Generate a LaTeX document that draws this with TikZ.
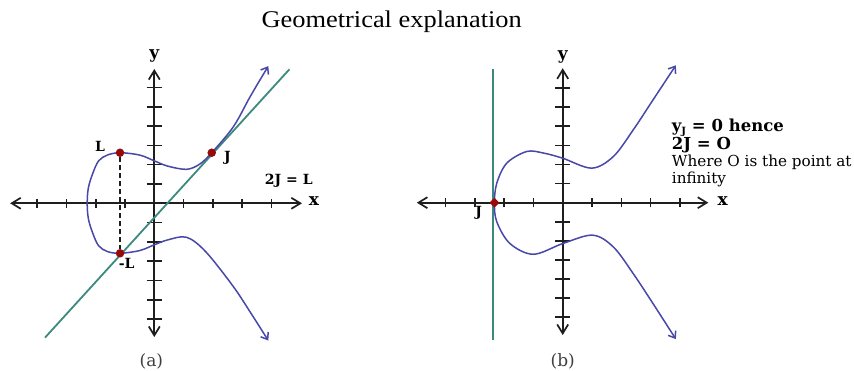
\documentclass[tikz,border=0pt]{standalone}
\usepackage{fontspec}
\setmainfont{Liberation Serif}
\newfontfamily\lblfont{DejaVu Serif}
\usetikzlibrary{arrows.meta,shapes.geometric}
\definecolor{curveblue}{RGB}{72,72,168}
\definecolor{tealline}{RGB}{60,138,126}
\definecolor{ptred}{RGB}{150,10,10}
\definecolor{axisgray}{RGB}{30,30,30}
\tikzset{
  axisline/.style={draw=axisgray,line width=1.7pt,
    {Straight Barb[length=9pt,width=11pt]}-{Straight Barb[length=9pt,width=11pt]}},
  tickmark/.style={draw=axisgray,line width=1.6pt},
  curveline/.style={draw=curveblue,line width=1.5pt,
    {Straight Barb[length=6pt,width=9pt]}-{Straight Barb[length=6pt,width=9pt]}},
  chord/.style={draw=tealline,line width=1.8pt},
  reddot/.style={circle,fill=ptred,inner sep=0pt,minimum size=8.5pt},
  reddiam/.style={diamond,fill=ptred,inner sep=0pt,minimum width=10pt,minimum height=10pt},
  blbl/.style={font=\lblfont\bfseries\fontsize{14}{14}\selectfont,text=black,inner sep=0pt},
  axlbl/.style={font=\lblfont\bfseries\fontsize{17}{17}\selectfont,text=black,inner sep=0pt},
  caplbl/.style={font=\lblfont\fontsize{17}{17}\selectfont,text=black!75,inner sep=0pt},
  notebold/.style={font=\lblfont\bfseries\fontsize{16.5}{16.5}\selectfont,text=black,inner sep=0pt,anchor=west},
  notereg/.style={font=\lblfont\fontsize{15.2}{15.2}\selectfont,text=black,inner sep=0pt,anchor=west}
}
\begin{document}
\begin{tikzpicture}[x=1pt,y=-1pt]
\useasboundingbox (0,0) rectangle (854,371);
\fill[white] (0,0) rectangle (854,371);

\node (title) at (391.7,22) {\fontsize{24}{24}\selectfont\scalebox{1.1}[1]{Geometrical explanation}};

% ---------- panel (a) ----------
\begin{scope}[shift={(154.3pt,-203.3pt)},x=29.3pt,y=19.3pt]
  \draw[axisline] (-4.92,0) -- (5.04,0);
  \draw[axisline] (0,-6.93) -- (0,6.96);
  \foreach \k in {-4,-3,-2,-1,1,2,3,4} \draw[tickmark] (\k,-0.24) -- (\k,0.24);
  \foreach \k in {-6,-5,-4,-3,-2,-1,1,2,3,4,5,6} \draw[tickmark] (-0.26,\k) -- (0.26,\k);
  \node[axlbl] (ya) at (0,7.62) {y};
  \node[axlbl] (xa) at (5.45,0.1) {x};
  \coordinate (ga1) at (-3.73,-6.96);
  \coordinate (ga2) at (4.61,6.94);
  \draw[chord] (ga1) -- (ga2);
  \draw[curveline] plot[smooth,tension=0.55] coordinates {
    (3.89,7.11) (3.27,5.52) (2.7,3.97) (1.96,2.62) (1.55,2.03) (1.1,1.76)
    (0.45,1.93) (0,2.2) (-0.5,2.5) (-1.17,2.62) (-1.6,2.5) (-1.9,2.2)
    (-2.1,1.55) (-2.25,0.8) (-2.29,0) (-2.25,-0.8) (-2.1,-1.55) (-1.9,-2.2)
    (-1.6,-2.5) (-1.17,-2.59) (-0.5,-2.45) (0,-2.15) (0.45,-1.9) (1.1,-1.76)
    (1.75,-2.5) (2.69,-4.3) (3.3,-5.7) (3.89,-7.11)};
  \node[reddot] (L) at (-1.17,2.62) {};
  \node[reddot] (mL) at (-1.17,-2.59) {};
  \node[reddot] (J) at (1.96,2.62) {};
  \draw[axisgray,line width=1.8pt,dash pattern=on 4.5pt off 3.5pt] (L) -- (mL);
  \node[blbl] (Llbl) at (-1.85,2.97) {L};
  \node[blbl] (Jlbl) at (2.5,2.38) {J};
  \node[blbl] (mLlbl) at (-0.94,-3.1) {-L};
  \node[blbl,anchor=west] (eqa) at (3.77,1.16) {2J = L};
  \node[caplbl] (capa) at (-0.1,-8.2) {(a)};
\end{scope}

% ---------- panel (b) ----------
\begin{scope}[shift={(562.7pt,-202.7pt)},x=29.3pt,y=19.1pt]
  \draw[axisline] (-4.98,0) -- (4.97,0);
  \draw[axisline] (0,-6.93) -- (0,7.04);
  \foreach \k in {-4,-3,-2,-1,1,2,3,4} \draw[tickmark] (\k,-0.24) -- (\k,0.24);
  \foreach \k in {-6,-5,-4,-3,-2,-1,1,2,3,4,5,6} \draw[tickmark] (-0.26,\k) -- (0.26,\k);
  \node[axlbl] (yb) at (0,7.62) {y};
  \node[axlbl] (xb) at (5.46,0.1) {x};
  \coordinate (gb1) at (-2.37,6.98);
  \coordinate (gb2) at (-2.37,-7.19);
  \draw[chord] (gb1) -- (gb2);
  \draw[curveline] plot[smooth,tension=0.55] coordinates {
    (3.86,7.19) (3.09,5.4) (2.41,3.82) (1.73,2.42) (0.99,1.81) (0,2.33)
    (-0.66,2.6) (-1.23,2.68) (-1.91,2.07) (-2.25,1.02) (-2.33,0)
    (-2.25,-1.0) (-1.8,-2.14) (-1.0,-2.7) (0,-2.14) (1.02,-1.7)
    (1.73,-2.32) (2.41,-3.72) (3.09,-5.3) (3.86,-7.14)};
  \node[reddiam] (Jb) at (-2.33,0) {};
  \node[blbl] (Jblbl) at (-2.87,-0.55) {J};
  \node[caplbl] (capb) at (0,-8.32) {(b)};
\end{scope}

\node[notebold] (n1) at (671.7,128) {y\raisebox{-0.35ex}{\fontsize{10}{10}\selectfont J} = 0 hence};
\node[notebold] (n2) at (671.7,145) {2J = O};
\node[notereg] (n3) at (671.7,162) {Where O is the point at};
\node[notereg] (n4) at (671.7,179) {infinity};
\end{tikzpicture}
\end{document}
